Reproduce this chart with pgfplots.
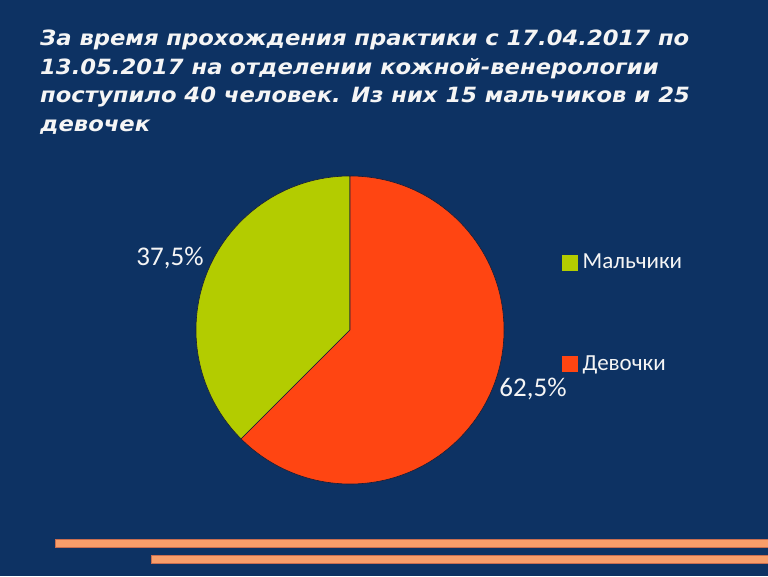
\documentclass[border=0pt]{standalone}
\usepackage{pgfplots}
\usepackage{pgfplotstable}
\pgfplotsset{compat=1.18}
\usepackage{fontspec}
\setmainfont{Carlito}
\newfontfamily\titlefont{DejaVu Sans}[FakeStretch=1.08]
\definecolor{bgc}{RGB}{13,50,99}
\definecolor{pgreen}{RGB}{179,204,0}
\definecolor{pred}{RGB}{255,69,18}
\definecolor{stripe}{RGB}{248,158,106}
\definecolor{stripeb}{RGB}{200,110,80}
\definecolor{outl}{RGB}{25,30,55}
\definecolor{txt}{RGB}{245,245,245}

\pgfplotstableread{
value
15
25
}\piedata
\pgfplotstablegetelem{0}{value}\of\piedata \let\va\pgfplotsretval
\pgfplotstablegetelem{1}{value}\of\piedata \let\vb\pgfplotsretval
\pgfmathsetmacro\total{\va+\vb}
\pgfmathsetmacro\angA{90+360*\va/\total}

\begin{document}%
\begin{tikzpicture}
\path[use as bounding box] (0,0) rectangle (768pt,576pt);
\fill[bgc] (0,0) rectangle (768pt,576pt);
% title
\begin{scope}[every node/.style={anchor=base west, inner sep=0pt, text=txt, font=\titlefont\bfseries\itshape\fontsize{21}{24}\selectfont}]
\node at (40pt,{576pt-46pt}) {За время прохождения практики с 17.04.2017 по};
\node at (40pt,{576pt-75pt}) {13.05.2017 на отделении кожной-венерологии};
\node at (40pt,{576pt-103pt}) {поступило 40 человек. Из них 15 мальчиков и 25};
\node at (40pt,{576pt-132pt}) {девочек};
\end{scope}
% stripes
\fill[stripe, draw=stripeb, line width=0.4pt] (55pt,{576pt-547pt}) rectangle (768pt,{576pt-539pt});
\fill[stripe, draw=stripeb, line width=0.4pt] (151pt,{576pt-563pt}) rectangle (768pt,{576pt-555pt});
\begin{axis}[
  at={(350pt,246pt)}, anchor=center,
  x=1pt, y=1pt,
  xmin=-160, xmax=160, ymin=-160, ymax=160,
  hide axis, clip=false,
  legend style={at={(axis cs:209,17)}, anchor=west, draw=none, fill=none,
    text=txt, font=\fontsize{23}{27}\selectfont, row sep=81pt,
    cells={anchor=west}},
  legend cell align=left,
]
\fill[pgreen, draw=outl, line width=0.6pt] (axis cs:0,0) -- (axis cs:0,154) arc[start angle=90, end angle=\angA, radius=154pt] -- cycle;
\fill[pred, draw=outl, line width=0.6pt] (axis cs:0,0) -- (axis cs:0,154) arc[start angle=90, end angle={\angA-360}, radius=154pt] -- cycle;
\node[text=txt, font=\fontsize{27}{31}\selectfont] at (axis cs:-180,72) {37,5\%};
\node[text=txt, font=\fontsize{27}{31}\selectfont] at (axis cs:183,-59) {62,5\%};
\addlegendimage{legend image code/.code={\fill[pgreen] (0pt,-7.5pt) rectangle (15pt,7.5pt); \path (18pt,0pt);}}
\addlegendentry{Мальчики}
\addlegendimage{legend image code/.code={\fill[pred] (0pt,-7.5pt) rectangle (15pt,7.5pt); \path (18pt,0pt);}}
\addlegendentry{Девочки}
\end{axis}
\end{tikzpicture}%
\end{document}
